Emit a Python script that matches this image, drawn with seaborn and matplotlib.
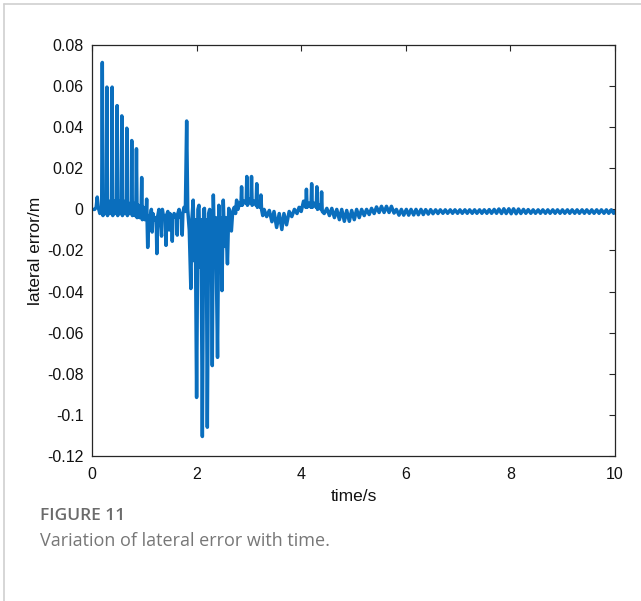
import numpy as np
import pandas as pd
import matplotlib
matplotlib.use("Agg")
import matplotlib.pyplot as plt
import seaborn as sns
from matplotlib.lines import Line2D

# ---- data (turning points of the oscillating signal) ----
t_start = [0.00, 0.05, 0.08, 0.10, 0.12, 0.15, 0.185, 0.197, 0.21, 0.235, 0.255, 0.273, 0.285,
           0.297, 0.325, 0.35, 0.373, 0.385, 0.397, 0.42, 0.445, 0.468, 0.48, 0.492, 0.515,
           0.54, 0.558, 0.57, 0.582, 0.605, 0.63, 0.653, 0.665, 0.677, 0.70, 0.725, 0.748,
           0.76, 0.772, 0.795, 0.82, 0.838, 0.85, 0.862, 0.885, 0.91, 0.938, 0.95, 0.962,
           0.985, 1.01, 1.033]
e_start = [0.000, 0.000, 0.001, 0.006, 0.001, -0.002, -0.001, 0.0715, -0.003, 0.003, -0.002,
           -0.001, 0.0595, -0.003, 0.004, -0.002, -0.001, 0.0595, -0.003, 0.004, -0.002,
           -0.001, 0.0505, -0.003, 0.004, -0.002, -0.001, 0.0455, -0.003, 0.004, -0.002,
           -0.001, 0.0395, -0.003, 0.003, -0.002, -0.001, 0.0335, -0.003, 0.003, -0.003,
           -0.002, 0.0295, -0.004, 0.002, -0.004, -0.003, 0.0155, -0.005, 0.001, -0.005, -0.003]

t_settle1 = [1.045, 1.065, 1.085, 1.11, 1.135, 1.15, 1.165, 1.19, 1.228, 1.24, 1.252, 1.28,
             1.305, 1.33, 1.345, 1.37, 1.403, 1.415, 1.427, 1.45, 1.475, 1.49, 1.523, 1.535,
             1.547, 1.57, 1.60, 1.618, 1.63, 1.642, 1.665, 1.69, 1.713, 1.725, 1.737, 1.76,
             1.785]
e_settle1 = [0.005, -0.0185, -0.003, -0.006, 0.000, -0.011, -0.002, -0.005, -0.004, -0.0215,
             -0.004, 0.000, -0.005, -0.013, 0.000, -0.004, -0.003, -0.0175, -0.003, -0.001,
             -0.010, -0.002, -0.004, -0.0155, -0.004, -0.002, -0.004, -0.003, -0.0125, -0.002,
             0.000, -0.004, -0.003, -0.0125, -0.002, 0.001, -0.001]

t_dip = [1.81, 1.83, 1.86, 1.89, 1.91, 1.935, 1.955, 1.975, 2.00, 2.025, 2.045, 2.065, 2.085,
         2.11, 2.135, 2.15, 2.165, 2.185, 2.205, 2.23, 2.25, 2.265, 2.28, 2.30, 2.32, 2.345,
         2.365, 2.40, 2.425, 2.445, 2.465, 2.485, 2.51, 2.535, 2.555, 2.59, 2.615, 2.64, 2.665,
         2.69, 2.72, 2.745, 2.765]
e_dip = [0.043, 0.000, -0.010, -0.0385, -0.005, 0.0045, -0.025, -0.005, -0.0915, 0.000, 0.002,
         -0.028, -0.005, -0.1105, 0.000, 0.0005, -0.028, -0.005, -0.106, -0.002, 0.000, -0.027,
         -0.005, -0.076, 0.007, -0.025, -0.004, -0.072, 0.002, -0.022, -0.004, -0.0395, 0.0045,
         -0.018, -0.004, -0.0265, 0.0005, -0.008, -0.0105, -0.001, 0.001, -0.002, 0.0045]

t_mid = [2.79, 2.82, 2.848, 2.86, 2.872, 2.91, 2.948, 2.96, 2.972, 3.01, 3.038, 3.05, 3.062,
         3.10, 3.138, 3.15, 3.162, 3.19, 3.218, 3.23, 3.242, 3.265, 3.29, 3.34, 3.39, 3.44,
         3.48, 3.53, 3.58, 3.63, 3.67, 3.72, 3.77, 3.82, 3.87, 3.92, 3.96, 4.00, 4.045, 4.088,
         4.10, 4.112, 4.15, 4.188, 4.20, 4.212, 4.25, 4.288, 4.30, 4.312, 4.345, 4.378, 4.39,
         4.402, 4.44]
e_mid = [0.000, 0.003, 0.002, 0.011, 0.002, 0.004, 0.003, 0.016, 0.002, 0.005, 0.003, 0.016,
         0.002, 0.004, 0.002, 0.0125, 0.001, 0.003, 0.001, 0.007, 0.000, -0.003, 0.000, -0.0035,
         -0.0005, -0.006, -0.001, -0.0088, -0.002, -0.0098, -0.002, -0.0075, -0.001, -0.0035,
         0.000, -0.002, 0.001, -0.001, 0.004, 0.001, 0.0098, 0.001, 0.003, 0.001, 0.0125,
         0.001, 0.003, 0.001, 0.011, 0.000, 0.002, 0.000, 0.0085, -0.001, -0.002]

t_late = [4.49, 4.54, 4.585, 4.635, 4.68, 4.73, 4.775, 4.825, 4.87, 4.92, 4.965, 5.015, 5.06,
          5.11, 5.155, 5.205, 5.25, 5.30, 5.345, 5.395, 5.44, 5.49, 5.535, 5.585, 5.63, 5.68,
          5.725, 5.775]
e_late = [0.0005, -0.003, 0.0005, -0.004, 0.000, -0.005, 0.000, -0.0058, -0.0005, -0.0058,
          -0.0005, -0.005, 0.000, -0.004, 0.000, -0.003, 0.000, -0.0025, 0.0005, -0.002, 0.0012,
          -0.0015, 0.0015, -0.0015, 0.0015, -0.0015, 0.0015, -0.0018]

t_tail = [5.82, 5.87, 5.915, 5.96, 6.01, 6.055, 6.10, 6.15, 6.195, 6.24, 6.29, 6.335, 6.38,
          6.43, 6.475, 6.52, 6.57, 6.615, 6.66, 6.71, 6.755, 6.80, 6.85, 6.895, 6.94, 6.99,
          7.035, 7.08, 7.13, 7.175, 7.22, 7.27, 7.315, 7.36, 7.41, 7.455, 7.50, 7.55, 7.595,
          7.64, 7.69, 7.735, 7.78, 7.83, 7.875, 7.92, 7.97, 8.015, 8.06, 8.11, 8.155, 8.20,
          8.25, 8.295, 8.34, 8.39, 8.435, 8.48, 8.53, 8.575, 8.62, 8.67, 8.715, 8.76, 8.81,
          8.855, 8.90, 8.95, 8.995, 9.04, 9.09, 9.135, 9.18, 9.23, 9.275, 9.32, 9.37, 9.415,
          9.46, 9.51, 9.555, 9.60, 9.65, 9.695, 9.74, 9.79, 9.835, 9.88, 9.93, 9.975, 10.0]
e_tail = [0.0000, -0.0028, 0.0000, -0.0028, 0.0000, -0.0028, 0.0000, -0.0027, 0.0000,
          -0.0026, 0.0000, -0.0025, -0.0001, -0.0023, -0.0001, -0.0021, -0.0002, -0.0020,
          -0.0002, -0.0019, -0.0002, -0.0019, -0.0002, -0.0019, -0.0002, -0.0019, -0.0002,
          -0.0019, -0.0002, -0.0019, -0.0002, -0.0019, -0.0002, -0.0019, -0.0002, -0.0019,
          -0.0002, -0.0019, -0.0001, -0.0019, 0.0000, -0.0019, 0.0002, -0.0020, 0.0003,
          -0.0020, 0.0003, -0.0021, 0.0003, -0.0021, 0.0002, -0.0020, 0.0000, -0.0019,
          -0.0001, -0.0019, -0.0002, -0.0019, -0.0002, -0.0019, -0.0002, -0.0019, -0.0002,
          -0.0019, -0.0002, -0.0019, -0.0002, -0.0019, -0.0002, -0.0019, -0.0002, -0.0019,
          -0.0002, -0.0019, -0.0002, -0.0019, -0.0002, -0.0019, -0.0002, -0.0019, -0.0002,
          -0.0019, -0.0002, -0.0019, -0.0002, -0.0019, -0.0002, -0.0019, -0.0002, -0.0019,
          -0.0010]

x_ticks = [0, 2, 4, 6, 8, 10]
y_ticks = [-0.12, -0.1, -0.08, -0.06, -0.04, -0.02, 0, 0.02, 0.04, 0.06, 0.08]
y_tick_labels = ["-0.12", "-0.1", "-0.08", "-0.06", "-0.04", "-0.02", "0", "0.02", "0.04", "0.06", "0.08"]

df = pd.DataFrame({
    "time": t_start + t_settle1 + t_dip + t_mid + t_late + t_tail,
    "err": e_start + e_settle1 + e_dip + e_mid + e_late + e_tail,
})

sns.set_style("white")
plt.rcParams["font.family"] = ["Liberation Sans", "DejaVu Sans"]
plt.rcParams["xtick.direction"] = "in"
plt.rcParams["ytick.direction"] = "in"

fig = plt.figure(figsize=(6.41, 6.01), dpi=100)
ax = fig.add_axes([92 / 641, 1 - 456 / 601, (615 - 92) / 641, (456 - 45) / 601])

sns.lineplot(data=df, x="time", y="err", ax=ax, color="#0A6EBD", linewidth=2.5,
             estimator=None, sort=False)

ax.set_xlim(0, 10)
ax.set_ylim(-0.12, 0.08)
ax.set_xticks(x_ticks)
ax.set_xticklabels([str(v) for v in x_ticks])
ax.set_yticks(y_ticks)
ax.set_yticklabels(y_tick_labels)
ax.tick_params(axis="both", labelsize=11.5, length=4, width=0.8, color="#262626",
               labelcolor="#111111", top=True, right=True)
ax.tick_params(axis="x", pad=8)
ax.tick_params(axis="y", pad=6)
for s in ax.spines.values():
    s.set_visible(True)
    s.set_color("#262626")
    s.set_linewidth(0.9)
ax.set_xlabel("time/s", fontsize=12.5, color="#111111", labelpad=5)
ax.set_ylabel("lateral error/m", fontsize=12.5, color="#111111", labelpad=3)

# caption and frame
fig.add_artist(Line2D([4 / 641, 4 / 641], [0, 1 - 4 / 601], transform=fig.transFigure,
                      color="#cfcfcf", linewidth=1.2))
fig.add_artist(Line2D([4 / 641, 1], [1 - 4 / 601, 1 - 4 / 601], transform=fig.transFigure,
                      color="#cfcfcf", linewidth=1.2))
fig.text(40 / 641, 1 - 516 / 601, "FIGURE 11", fontsize=12.5, fontweight="semibold",
         color="#6b6b6b", family=["Open Sans", "DejaVu Sans"], va="center", ha="left")
fig.text(40 / 641, 1 - 541 / 601, "Variation of lateral error with time.", fontsize=13,
         color="#777777", family=["Open Sans", "DejaVu Sans"], va="center", ha="left")

fig.savefig("out.png", dpi=100)
